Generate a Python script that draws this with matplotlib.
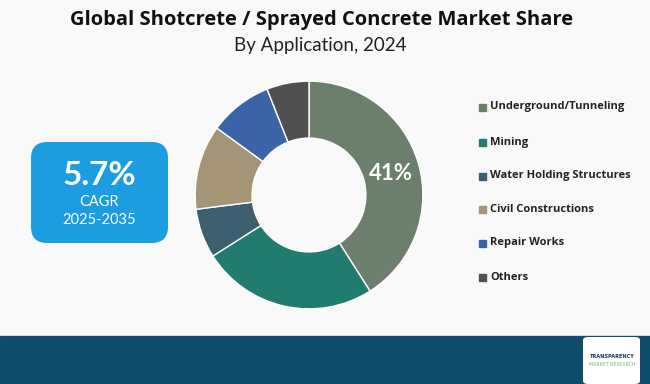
import matplotlib.pyplot as plt
from matplotlib.patches import FancyBboxPatch, Rectangle

# dati
labels = ["Underground/Tunneling", "Mining", "Water Holding Structures",
          "Civil Constructions", "Repair Works", "Others"]
shares = [41, 25, 7, 12, 9, 6]
colors = ["#6b7f6c", "#217b6e", "#3b5f6e", "#a39575", "#3b64a8", "#505050"]

W, H = 650, 384
fig = plt.figure(figsize=(W / 100, H / 100), dpi=100)
fig.patch.set_facecolor("#f9f9f9")

def fx(px):
    return px / W

def fy(py):
    return 1 - py / H

# titolo
fig.text(fx(322), fy(20), "Global Shotcrete / Sprayed Concrete Market Share",
         ha="center", va="center", fontsize=14.5, fontweight="bold",
         family="Open Sans", color="#111111")
fig.text(fx(320), fy(45), "By Application, 2024", ha="center", va="center",
         fontsize=13.5, family="Lato", color="#222222")

# donut
ax = fig.add_axes([fx(194), fy(310), fx(230), 230 / H])
wedges, _ = ax.pie(shares, colors=colors, startangle=90, counterclock=False,
                   radius=1, wedgeprops=dict(width=0.5, edgecolor="white", linewidth=1))
ax.set_xlim(-1.01, 1.01)
ax.set_ylim(-1.01, 1.01)
ax.set_aspect("equal")
ax.axis("off")
ax.text(0.72, 0.19, f"{shares[0]}%", ha="center", va="center", color="white",
        fontsize=16, fontweight="bold", family="Lato")

# legenda
row_y = [107, 142, 176, 209, 243, 277]
for lab, col, y in zip(labels, colors, row_y):
    fig.patches.append(Rectangle((fx(479), fy(y) - 3.5 / H), 7 / W, 7 / H,
                                 transform=fig.transFigure, color=col))
    fig.text(fx(490), fy(y), lab, ha="left", va="center", fontsize=8,
             fontweight="bold", family="Open Sans", color="#222222")

# box CAGR
box = FancyBboxPatch((fx(31), fy(243)), fx(137), 101 / H,
                     boxstyle="round,pad=0,rounding_size=0.025",
                     transform=fig.transFigure, facecolor="#1b9de0", edgecolor="none",
                     mutation_aspect=W / H)
fig.patches.append(box)
fig.text(fx(99), fy(175), "5.7%", ha="center", va="center", color="white",
         fontsize=24, fontweight="bold", family="Lato")
fig.text(fx(99), fy(202), "CAGR", ha="center", va="center", color="white",
         fontsize=10.5, family="Lato")
fig.text(fx(99), fy(220), "2025-2035", ha="center", va="center", color="white",
         fontsize=10.5, family="Lato")

# fascia in basso
fig.patches.append(Rectangle((0, 0), 1, 48 / H, transform=fig.transFigure,
                             color="#0c4d6c"))
logo = FancyBboxPatch((fx(583), fy(384)), fx(57), 47 / H,
                      boxstyle="round,pad=0,rounding_size=0.008",
                      transform=fig.transFigure, facecolor="white", edgecolor="none")
fig.patches.append(logo)
fig.text(fx(612), fy(357), "TRANSPARENCY", ha="center", va="center",
         fontsize=3.6, fontweight="bold", color="#1d3557")
fig.text(fx(612), fy(364), "MARKET RESEARCH", ha="center", va="center",
         fontsize=3.4, color="#7bb661")

fig.savefig("out.png", dpi=100, facecolor=fig.get_facecolor())
